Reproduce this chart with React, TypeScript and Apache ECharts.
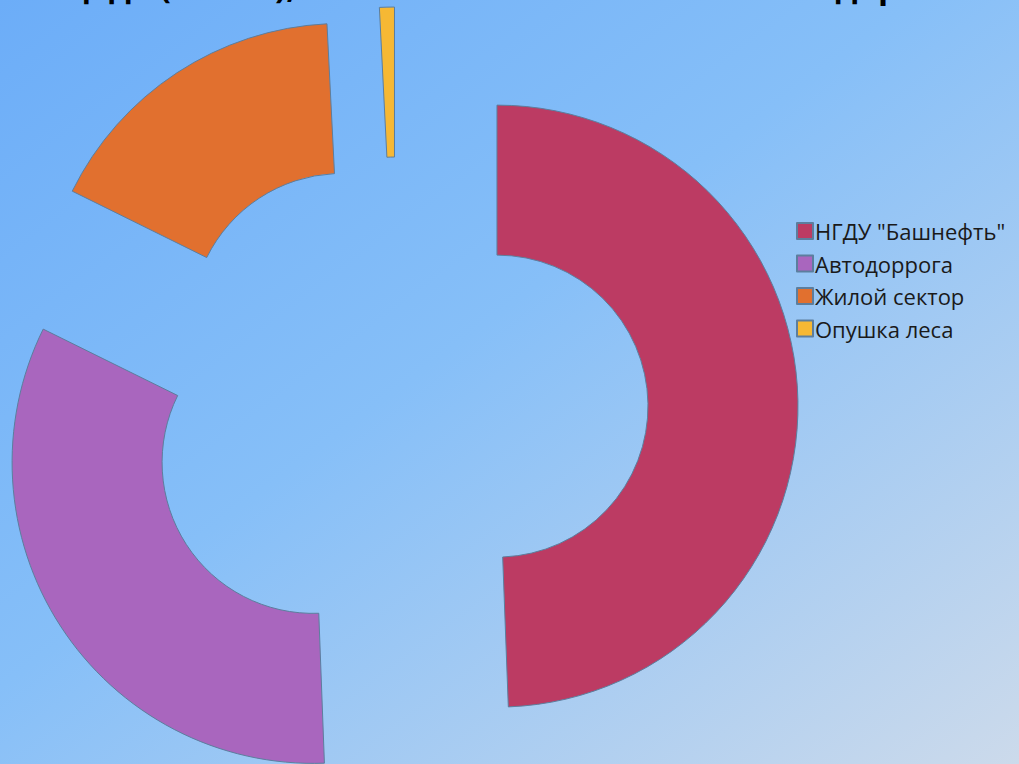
import React, { useEffect, useRef } from "react";
import * as echarts from "echarts";

const categories = ['НГДУ "Башнефть"', "Автодоррога", "Жилой сектор", "Опушка леса"];
const values = [49.4, 32.9, 16.9, 0.8];
const colors = ["#BC3B63", "#A966BE", "#E1702F", "#F6B834"];
const titleText = "Площадь (кв. см), занятая лишайниками или водорослями";

export default function App() {
  const ref = useRef<HTMLDivElement>(null);
  useEffect(() => {
    if (!ref.current) return;
    const chart = echarts.init(ref.current, undefined, { renderer: "svg" });
    const data = categories.map((name, i) => ({
      name,
      value: values[i],
      selected: true,
      itemStyle: { color: colors[i] },
      select: { itemStyle: { color: colors[i], borderColor: "#5C7E9E", borderWidth: 1 } },
    }));
    chart.setOption({
      animation: false,
      backgroundColor: new echarts.graphic.LinearGradient(0, 0, 1, 1, [
        { offset: 0, color: "#6CADF8" },
        { offset: 0.45, color: "#86BFF8" },
        { offset: 1, color: "#CCDAEB" },
      ]),
      graphic: [
        {
          type: "text",
          left: "center",
          top: -31,
          style: {
            text: titleText,
            font: 'bold 33px "Open Sans", sans-serif',
            fill: "#000",
          },
        },
      ],
      legend: {
        orient: "vertical",
        left: 791,
        top: 215,
        itemWidth: 16,
        itemHeight: 16,
        itemGap: 10.5,
        icon: "rect",
        selectedMode: false,
        textStyle: {
          fontFamily: '"Open Sans", sans-serif',
          fontSize: 22,
          color: "#1A1A1A",
          lineHeight: 22,
          padding: [0, 0, 0, -3],
        },
        data: categories,
      },
      series: [
        {
          type: "pie",
          center: [397, 408],
          radius: [151, 301],
          startAngle: 90,
          clockwise: true,
          selectedMode: "multiple",
          selectedOffset: 100,
          label: { show: false },
          labelLine: { show: false },
          emphasis: { disabled: true },
          itemStyle: { borderColor: "#5C7E9E", borderWidth: 1 },
          data,
        },
      ],
    });
    return () => chart.dispose();
  }, []);
  return (
    <div
      ref={ref}
      style={{ position: "absolute", left: 0, top: 0, width: 1019, height: 764 }}
    />
  );
}
